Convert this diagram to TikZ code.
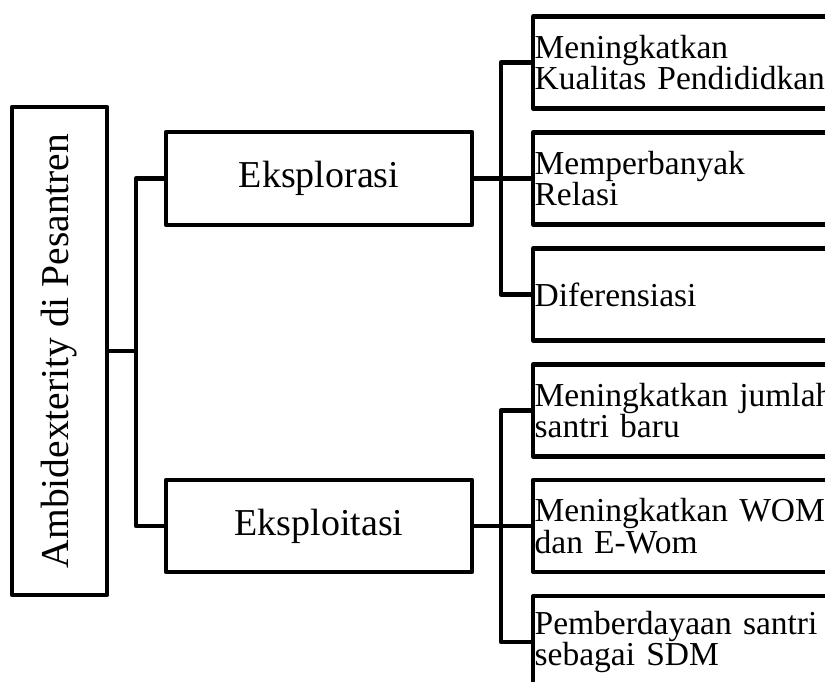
\documentclass[tikz,border=0pt]{standalone}
\usepackage{fontspec}
\setmainfont{Liberation Serif}
\usetikzlibrary{calc}

\begin{document}
\begin{tikzpicture}[
    x=1pt, y=-1pt,
    pes box/.style={draw=black, line width=4.3pt, line join=round, inner sep=0pt},
    pes link/.style={draw=black, line width=4.3pt, line join=round},
    pes root/.style={font=\fontsize{39.5}{45}\selectfont, inner sep=0pt},
    pes mid/.style={pes box, font=\fontsize{38}{43}\selectfont},
    pes leaf/.style={pes box, anchor=west, minimum width=320pt, minimum height=92pt,
      text width=317pt, align=left, inner xsep=1.5pt, font=\fontsize{33.5}{31.5}\selectfont},
]
  \clip (0,0) rectangle (825,682);

  % Posisi kotak.
  \coordinate (p-root) at (59.5,351);
  \coordinate (p-mid1) at (319,178.5);
  \coordinate (p-mid2) at (319,526);
  \coordinate (p-leaf1) at (531,62.5);
  \coordinate (p-leaf2) at (531,178.5);
  \coordinate (p-leaf3) at (531,294.5);
  \coordinate (p-leaf4) at (531,410.5);
  \coordinate (p-leaf5) at (531,526);
  \coordinate (p-leaf6) at (531,642);

  % Kotak.
  \node[pes box, minimum width=95pt, minimum height=488pt] (root) at (p-root) {};
  \node[pes root, rotate=90] (root-text) at (p-root) {Ambidexterity di Pesantren};
  \node[pes mid, minimum width=306pt, minimum height=93pt] (mid1) at (p-mid1) {Eksplorasi};
  \node[pes mid, minimum width=306pt, minimum height=92pt] (mid2) at (p-mid2) {Eksploitasi};
  \node[pes leaf] (leaf1) at (p-leaf1) {Meningkatkan\\Kualitas Pendididkan};
  \node[pes leaf] (leaf2) at (p-leaf2) {Memperbanyak\\Relasi};
  \node[pes leaf] (leaf3) at (p-leaf3) {Diferensiasi};
  \node[pes leaf] (leaf4) at (p-leaf4) {Meningkatkan jumlah\\santri baru};
  \node[pes leaf] (leaf5) at (p-leaf5) {Meningkatkan WOM\\dan E-Wom};
  \node[pes leaf] (leaf6) at (p-leaf6) {Pemberdayaan santri\\sebagai SDM};

  % Garis penghubung.
  \coordinate (bus-root) at (136,351);
  \coordinate (bus-mid1) at (501,178.5);
  \coordinate (bus-mid2) at (501,526);
  \draw[pes link] (root.east) -- (bus-root);
  \draw[pes link] (mid1.west) -| (bus-root) |- (mid2.west);
  \draw[pes link] (mid1.east) -- (bus-mid1);
  \draw[pes link] (leaf1.west) -| (bus-mid1) |- (leaf3.west);
  \draw[pes link] (bus-mid1) -- (leaf2.west);
  \draw[pes link] (mid2.east) -- (bus-mid2);
  \draw[pes link] (leaf4.west) -| (bus-mid2) |- (leaf6.west);
  \draw[pes link] (bus-mid2) -- (leaf5.west);
\end{tikzpicture}
\end{document}
